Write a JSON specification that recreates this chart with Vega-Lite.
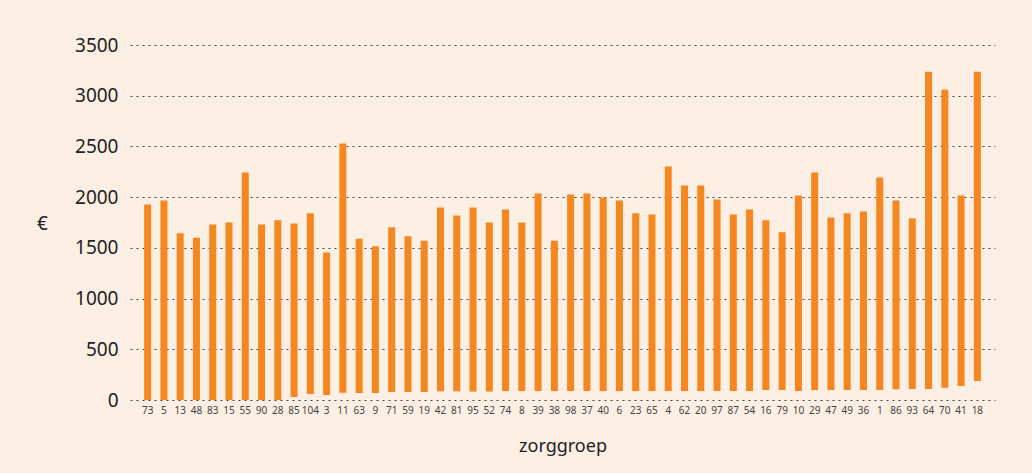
{
  "$schema": "https://vega.github.io/schema/vega-lite/v6.json",
  "width": 865,
  "height": 355,
  "autosize": {"type": "none"},
  "padding": {"left": 130, "top": 45, "right": 37, "bottom": 73},
  "background": "#FDEFE3",
  "config": {
    "view": {"stroke": null},
    "font": "Noto Sans"
  },
  "data": {
    "values": [
      {"zorggroep": "73", "low": 0, "high": 1928},
      {"zorggroep": "5", "low": 0, "high": 1967},
      {"zorggroep": "13", "low": 0, "high": 1645},
      {"zorggroep": "48", "low": 0, "high": 1600},
      {"zorggroep": "83", "low": 0, "high": 1731},
      {"zorggroep": "15", "low": 0, "high": 1751},
      {"zorggroep": "55", "low": 0, "high": 2243},
      {"zorggroep": "90", "low": 0, "high": 1731},
      {"zorggroep": "28", "low": 0, "high": 1771},
      {"zorggroep": "85", "low": 30, "high": 1741},
      {"zorggroep": "104", "low": 60, "high": 1840},
      {"zorggroep": "3", "low": 50, "high": 1455},
      {"zorggroep": "11", "low": 72, "high": 2528},
      {"zorggroep": "63", "low": 68, "high": 1590},
      {"zorggroep": "9", "low": 68, "high": 1515},
      {"zorggroep": "71", "low": 79, "high": 1702},
      {"zorggroep": "59", "low": 79, "high": 1615},
      {"zorggroep": "19", "low": 79, "high": 1570},
      {"zorggroep": "42", "low": 87, "high": 1899},
      {"zorggroep": "81", "low": 87, "high": 1820},
      {"zorggroep": "95", "low": 84, "high": 1899},
      {"zorggroep": "52", "low": 84, "high": 1751},
      {"zorggroep": "74", "low": 89, "high": 1879},
      {"zorggroep": "8", "low": 89, "high": 1751},
      {"zorggroep": "39", "low": 89, "high": 2036},
      {"zorggroep": "38", "low": 89, "high": 1570},
      {"zorggroep": "98", "low": 89, "high": 2026},
      {"zorggroep": "37", "low": 89, "high": 2036},
      {"zorggroep": "40", "low": 89, "high": 1997},
      {"zorggroep": "6", "low": 89, "high": 1967},
      {"zorggroep": "23", "low": 89, "high": 1840},
      {"zorggroep": "65", "low": 89, "high": 1830},
      {"zorggroep": "4", "low": 89, "high": 2302},
      {"zorggroep": "62", "low": 89, "high": 2115},
      {"zorggroep": "20", "low": 89, "high": 2115},
      {"zorggroep": "97", "low": 89, "high": 1977},
      {"zorggroep": "87", "low": 89, "high": 1830},
      {"zorggroep": "54", "low": 89, "high": 1879},
      {"zorggroep": "16", "low": 98, "high": 1771},
      {"zorggroep": "79", "low": 98, "high": 1655},
      {"zorggroep": "10", "low": 89, "high": 2017},
      {"zorggroep": "29", "low": 98, "high": 2243},
      {"zorggroep": "47", "low": 98, "high": 1800},
      {"zorggroep": "49", "low": 98, "high": 1840},
      {"zorggroep": "36", "low": 98, "high": 1859},
      {"zorggroep": "1", "low": 98, "high": 2194},
      {"zorggroep": "86", "low": 105, "high": 1967},
      {"zorggroep": "93", "low": 109, "high": 1790},
      {"zorggroep": "64", "low": 109, "high": 3237},
      {"zorggroep": "70", "low": 121, "high": 3060},
      {"zorggroep": "41", "low": 138, "high": 2017},
      {"zorggroep": "18", "low": 187, "high": 3237}
    ]
  },
  "mark": {"type": "bar", "color": "#F58620"},
  "encoding": {
    "x": {
      "field": "zorggroep",
      "type": "nominal",
      "sort": null,
      "scale": {"paddingInner": 0.57, "paddingOuter": 0.87},
      "axis": {
        "title": "zorggroep",
        "titleFontSize": 18,
        "titleFontWeight": "normal",
        "titleColor": "#222222",
        "titlePadding": 22,
        "labelAngle": 0,
        "labelFontSize": 10,
        "labelColor": "#444444",
        "labelPadding": 5,
        "domain": false,
        "ticks": false,
        "grid": false
      }
    },
    "y": {
      "field": "high",
      "type": "quantitative",
      "scale": {"domain": [0, 3500], "nice": false},
      "axis": {
        "title": "€",
        "titleAngle": 0,
        "titleFontSize": 19,
        "titleFontWeight": "normal",
        "titleColor": "#222222",
        "titleX": -88,
        "titleY": 178,
        "titleAlign": "center",
        "titleBaseline": "middle",
        "values": [0, 500, 1000, 1500, 2000, 2500, 3000, 3500],
        "format": "d",
        "labelFontSize": 19,
        "labelColor": "#222222",
        "labelPadding": 12,
        "domain": false,
        "ticks": false,
        "grid": true,
        "gridDash": [2, 4],
        "gridColor": "#444444",
        "gridOpacity": 1
      }
    },
    "y2": {"field": "low"}
  }
}
